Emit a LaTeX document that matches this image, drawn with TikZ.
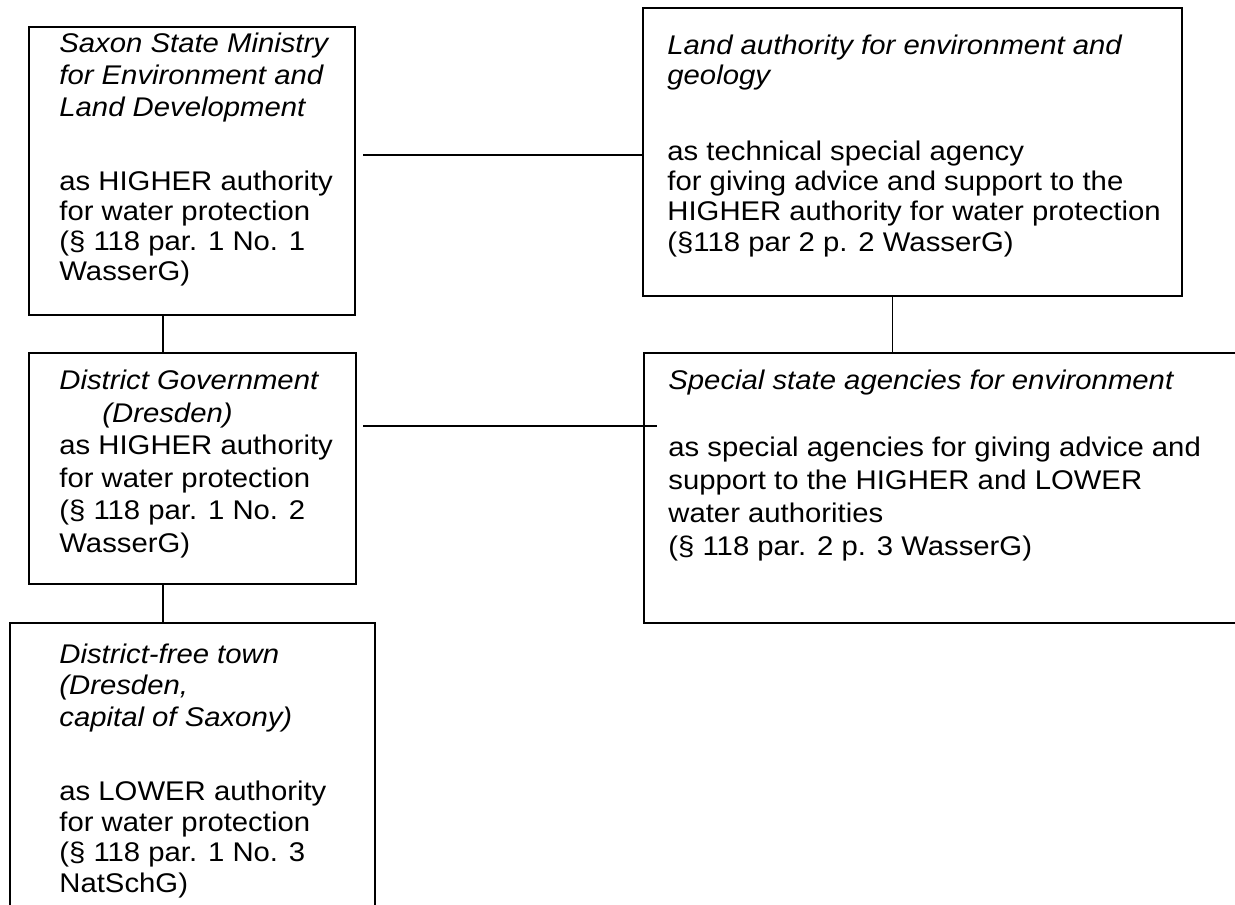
\documentclass[tikz,border=0pt]{standalone}
\usepackage{fontspec}
\setmainfont{Liberation Sans}[FakeStretch=1.085]
\newcommand\tl[1]{\hbox{#1}}
\newcommand\bs[1]{\baselineskip=#1\relax}
\tikzset{
  box/.style={draw, line width=0.8pt, inner sep=0pt, anchor=north west},
  link/.style={line width=0.7pt},
  txt/.style={inner sep=0pt, anchor=base west, font=\fontsize{13.5pt}{15.5pt}\selectfont}
}
\begin{document}
\begin{tikzpicture}[x=0.5pt, y=-0.5pt]
\path[use as bounding box] (0,0) rectangle (1235,904);
\clip (0,0) rectangle (1235,904);
% boxes
\node[box, minimum width=163pt, minimum height=144pt] (A) at (28,26) {};
\node[box, minimum width=269.5pt, minimum height=144pt] (B) at (642,7) {};
\node[box, minimum width=163.5pt, minimum height=115.5pt] (C) at (28,352) {};
\node[box, minimum width=310pt, minimum height=135pt] (D) at (643,352) {};
\node[box, minimum width=182.5pt, minimum height=170pt] (E) at (9,622) {};
% texts
\node[txt] (tA) at (59,53) {\vtop{\bs{15.9pt}\itshape
  \tl{Saxon State Ministry}\tl{for Environment and}\tl{Land Development}
  \upshape\bs{15pt}\vskip 22pt
  \tl{as HIGHER authority}\tl{for water protection}\tl{(§ 118 par. 1 No. 1}\tl{WasserG)}}};
\node[txt] (tB) at (667,54.5) {\vtop{\bs{15pt}\itshape
  \tl{Land authority for environment and}\tl{geology}
  \upshape\bs{15.2pt}\vskip 22.6pt
  \tl{as technical special agency}\tl{for giving advice and support to the}\tl{HIGHER authority for water protection}\tl{(§118 par 2 p. 2 WasserG)}}};
\node[txt] (tC) at (59,389.5) {\vtop{\bs{16.3pt}
  \tl{\itshape District Government}\tl{\itshape\hspace*{21.5pt}(Dresden)}
  \tl{as HIGHER authority}\tl{for water protection}\tl{(§ 118 par. 1 No. 2}\tl{WasserG)}}};
\node[txt] (tD) at (668,389.5) {\vtop{\bs{16.5pt}
  \tl{\itshape Special state agencies for environment}
  \vskip 17pt
  \tl{as special agencies for giving advice and}\tl{support to the HIGHER and LOWER}\tl{water authorities}\tl{(§ 118 par. 2 p. 3 WasserG)}}};
\node[txt] (tE) at (59,663) {\vtop{\bs{15.75pt}\itshape
  \tl{District-free town}\tl{(Dresden,}\tl{capital of Saxony)}
  \upshape\bs{15.25pt}\vskip 22pt
  \tl{as LOWER authority}\tl{for water protection}\tl{(§ 118 par. 1 No. 3}\tl{NatSchG)}}};
% connector anchors
\coordinate (abL) at (363,155);
\coordinate (cdL) at (363,426);
\coordinate (cdR) at (657,426);
\coordinate (vL) at (163,0);
\coordinate (vR) at (892.5,0);
% connectors
\draw[link] (abL) -- (abL -| B.west);
\draw[link] (cdL) -- (cdR);
\draw[link] (A.south -| vL) -- (C.north -| vL);
\draw[link] (C.south -| vL) -- (E.north -| vL);
\draw[link] (B.south -| vR) -- (D.north -| vR);
\end{tikzpicture}
\end{document}
